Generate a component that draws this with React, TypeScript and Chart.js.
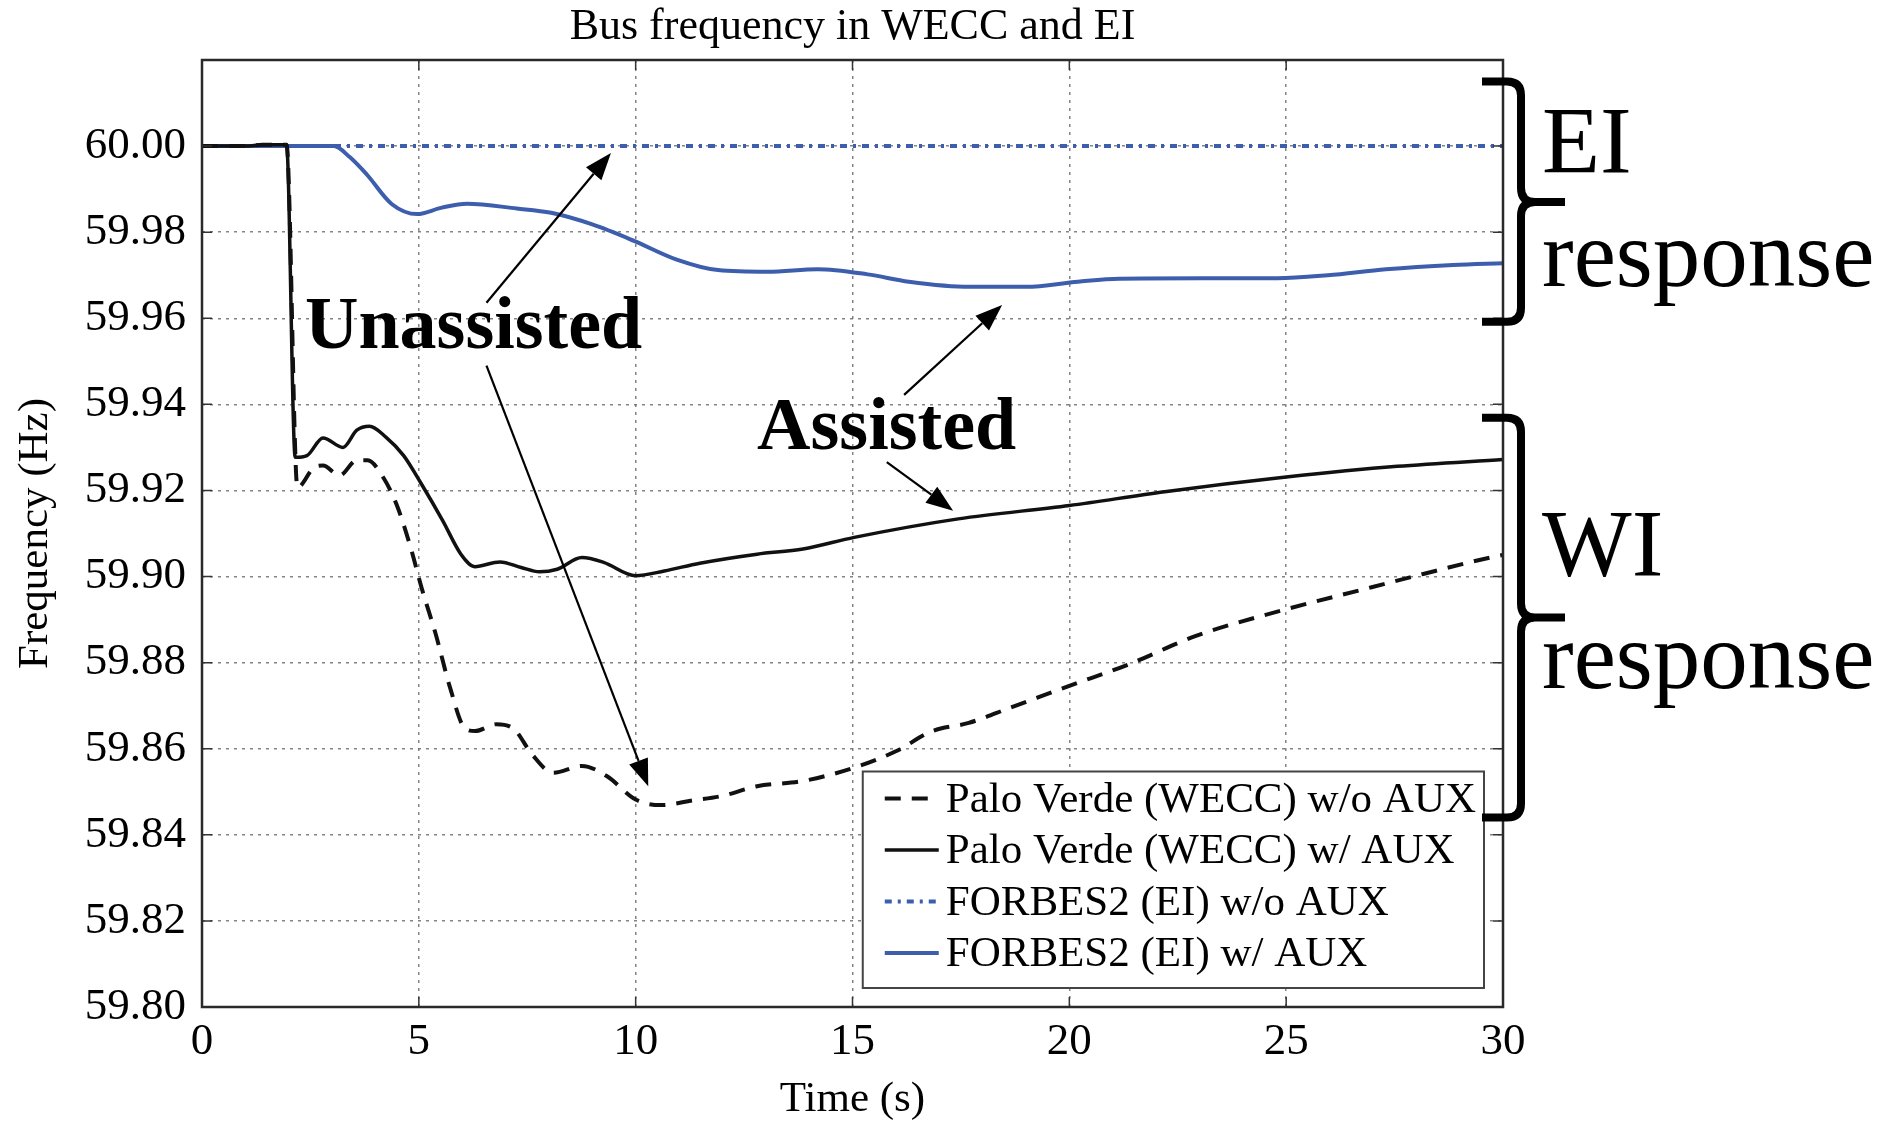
import React, { useEffect, useRef } from 'react';
import { Chart, registerables } from 'chart.js';

Chart.register(...registerables);

// ---------------- data ----------------
const chartTitle = 'Bus frequency in WECC and EI';
const xTitle = 'Time (s)';
const yTitle = 'Frequency (Hz)';

const seriesLabels = [
  'Palo Verde (WECC) w/o AUX',
  'Palo Verde (WECC) w/ AUX',
  'FORBES2 (EI) w/o AUX',
  'FORBES2 (EI) w/ AUX',
];

const xTicks = [0, 5, 10, 15, 20, 25, 30];
const yTicks = [59.8, 59.82, 59.84, 59.86, 59.88, 59.9, 59.92, 59.94, 59.96, 59.98, 60.0];

const tPaloNoAux = [0, 1.0, 1.4, 1.7, 1.95, 2.2, 2.59, 2.79, 3.17, 3.57, 3.82, 4.15, 4.48, 4.81, 5.06, 5.39, 5.72, 6.05, 6.3, 6.79, 7.2, 7.61, 8.1, 8.76, 9.34, 10.0, 10.58, 11.32, 11.98, 12.8, 13.86, 15.04, 16.0, 16.84, 17.68, 18.63, 20.0, 21.37, 22.92, 25.0, 26.97, 28.16, 29.7, 30];
const fPaloNoAux = [60.0, 60.0, 60.0003, 60.0003, 60.0003, 59.9207, 59.9254, 59.9258, 59.9235, 59.927, 59.927, 59.9235, 59.9169, 59.9068, 59.8975, 59.8866, 59.8742, 59.8649, 59.8641, 59.8657, 59.8645, 59.8587, 59.8544, 59.856, 59.8536, 59.8482, 59.8469, 59.848, 59.849, 59.8513, 59.8525, 59.8556, 59.8594, 59.8641, 59.866, 59.8695, 59.8746, 59.8796, 59.8862, 59.8924, 59.8975, 59.9006, 59.9044, 59.905];

const tPaloAux = [0, 1.0, 1.4, 1.7, 1.95, 2.15, 2.42, 2.79, 3.25, 3.57, 3.86, 4.24, 4.65, 5.06, 5.55, 5.97, 6.29, 6.87, 7.36, 7.78, 8.19, 8.76, 9.26, 10.0, 10.66, 11.48, 12.8, 13.86, 15.04, 17.44, 20.0, 22.2, 25.0, 27.56, 30];
const fPaloAux = [60.0, 60.0, 60.0003, 60.0003, 60.0003, 59.9277, 59.9281, 59.9322, 59.93, 59.934, 59.9349, 59.9324, 59.9281, 59.9215, 59.913, 59.9052, 59.9023, 59.9034, 59.9021, 59.9011, 59.9017, 59.9044, 59.9033, 59.9002, 59.9013, 59.9031, 59.9052, 59.9064, 59.9091, 59.9134, 59.9165, 59.9197, 59.9231, 59.9256, 59.9272];

const tForbesNoAux = [0, 5, 10, 15, 20, 25, 30];
const fForbesNoAux = [60.0, 60.0, 60.0, 60.0, 60.0, 60.0, 60.0];

const tForbesAux = [0, 3.04, 3.4, 3.8, 4.38, 4.96, 5.53, 6.11, 7.26, 8.05, 9.0, 9.96, 10.93, 11.9, 13.05, 14.2, 15.35, 16.3, 17.7, 19.0, 20.2, 21.15, 23.06, 24.8, 25.96, 27.3, 28.85, 30];
const fForbesAux = [60.0, 60.0, 59.9975, 59.9934, 59.9865, 59.9842, 59.9857, 59.9866, 59.9855, 59.9845, 59.9818, 59.978, 59.9737, 59.9712, 59.9708, 59.9714, 59.9702, 59.9685, 59.9673, 59.9673, 59.9685, 59.9692, 59.9693, 59.9693, 59.97, 59.9714, 59.9724, 59.9728];

// annotations (data units)
const noteTexts = [
  { text: 'Unassisted', t: 2.375, f: 59.9531 },
  { text: 'Assisted', t: 12.8, f: 59.9297 },
];
const noteArrows = [
  { t1: 6.56, f1: 59.9636, t2: 9.43, f2: 59.9984 },
  { t1: 6.56, f1: 59.949, t2: 10.29, f2: 59.8513 },
  { t1: 16.19, f1: 59.9422, t2: 18.45, f2: 59.9631 },
  { t1: 15.79, f1: 59.9266, t2: 17.32, f2: 59.9153 },
];
const braces = [
  { top: 60.015, mid: 59.987, bottom: 59.9592, line1: 'EI', f1: 59.9937, line2: 'response', f2: 59.9675 },
  { top: 59.9369, mid: 59.8905, bottom: 59.844, line1: 'WI', f1: 59.9002, line2: 'response', f2: 59.874 },
];

// ---------------- styles ----------------
const SERIF = "'Liberation Serif', 'Times New Roman', Times, serif";
const BLUE = '#3D5EAD';
const BLACK = '#111111';
const GRID = 'rgba(110,110,110,0.85)';

function drawArrow(ctx: CanvasRenderingContext2D, x1: number, y1: number, x2: number, y2: number) {
  const ang = Math.atan2(y2 - y1, x2 - x1);
  const hl = 27;
  const hw = 10;
  const bx = x2 - hl * Math.cos(ang);
  const by = y2 - hl * Math.sin(ang);
  ctx.beginPath();
  ctx.moveTo(x1, y1);
  ctx.lineTo(bx, by);
  ctx.stroke();
  ctx.beginPath();
  ctx.moveTo(x2, y2);
  ctx.lineTo(bx + hw * Math.sin(ang), by - hw * Math.cos(ang));
  ctx.lineTo(bx - hw * Math.sin(ang), by + hw * Math.cos(ang));
  ctx.closePath();
  ctx.fill();
}

const decorPlugin = {
  id: 'decor',
  afterDatasetsDraw(chart: any) {
    const ctx: CanvasRenderingContext2D = chart.ctx;
    const a = chart.chartArea;
    const xs = chart.scales.x;
    const ys = chart.scales.y;
    ctx.save();
    // inner tick marks
    ctx.strokeStyle = '#333';
    ctx.lineWidth = 1.5;
    ctx.setLineDash([]);
    xTicks.forEach((v) => {
      const px = xs.getPixelForValue(v);
      ctx.beginPath();
      ctx.moveTo(px, a.bottom);
      ctx.lineTo(px, a.bottom - 10);
      ctx.moveTo(px, a.top);
      ctx.lineTo(px, a.top + 10);
      ctx.stroke();
    });
    yTicks.forEach((v) => {
      const py = ys.getPixelForValue(v);
      ctx.beginPath();
      ctx.moveTo(a.left, py);
      ctx.lineTo(a.left + 10, py);
      ctx.moveTo(a.right, py);
      ctx.lineTo(a.right - 10, py);
      ctx.stroke();
    });
    // frame
    ctx.strokeStyle = '#2a2a2a';
    ctx.lineWidth = 2.5;
    ctx.strokeRect(a.left, a.top, a.right - a.left, a.bottom - a.top);

    // legend box
    ctx.font = `43px ${SERIF}`;
    const labels = chart.data.datasets.map((d: any) => d.label as string);
    const maxW = Math.max(...labels.map((l: string) => ctx.measureText(l).width));
    const padL = 22, sample = 54, gap = 7, padR = 8, rowH = 51.5, firstRow = 27, lastPad = 35;
    const w = padL + sample + gap + maxW + padR;
    const h = firstRow + rowH * (labels.length - 1) + lastPad;
    const bx = a.right - 19 - w;
    const by = a.bottom - 19 - h;
    ctx.fillStyle = '#fff';
    ctx.fillRect(bx, by, w, h);
    ctx.strokeStyle = '#444';
    ctx.lineWidth = 2;
    ctx.strokeRect(bx, by, w, h);
    chart.data.datasets.forEach((d: any, i: number) => {
      const cy = by + firstRow + i * rowH;
      ctx.save();
      ctx.strokeStyle = d.borderColor;
      ctx.lineWidth = d.borderWidth;
      ctx.setLineDash(d.borderDash || []);
      ctx.beginPath();
      ctx.moveTo(bx + padL, cy);
      ctx.lineTo(bx + padL + sample, cy);
      ctx.stroke();
      ctx.restore();
      ctx.fillStyle = '#000';
      ctx.textAlign = 'left';
      ctx.textBaseline = 'middle';
      ctx.fillText(d.label, bx + padL + sample + gap, cy + 2);
    });
    ctx.restore();
  },
  afterDraw(chart: any) {
    const ctx: CanvasRenderingContext2D = chart.ctx;
    const a = chart.chartArea;
    const xs = chart.scales.x;
    const ys = chart.scales.y;
    ctx.save();
    ctx.fillStyle = '#000';
    ctx.strokeStyle = '#000';
    // title centred over the plot area
    ctx.font = `44px ${SERIF}`;
    ctx.textAlign = 'center';
    ctx.textBaseline = 'alphabetic';
    ctx.fillText(chartTitle, (a.left + a.right) / 2, a.top - 21);
    // bold annotation texts
    ctx.font = `bold 74px ${SERIF}`;
    ctx.textAlign = 'left';
    noteTexts.forEach((n) => {
      ctx.fillText(n.text, xs.getPixelForValue(n.t), ys.getPixelForValue(n.f));
    });
    // arrows
    ctx.lineWidth = 2.2;
    noteArrows.forEach((r) => {
      drawArrow(ctx, xs.getPixelForValue(r.t1), ys.getPixelForValue(r.f1), xs.getPixelForValue(r.t2), ys.getPixelForValue(r.f2));
    });
    // braces
    const x0 = a.right - 21;
    const xv = a.right + 18;
    const xt = a.right + 62;
    const r = 14;
    ctx.lineWidth = 8;
    ctx.lineJoin = 'round';
    ctx.lineCap = 'butt';
    braces.forEach((b) => {
      const top = ys.getPixelForValue(b.top);
      const mid = ys.getPixelForValue(b.mid);
      const bot = ys.getPixelForValue(b.bottom);
      ctx.beginPath();
      ctx.moveTo(x0, top);
      ctx.lineTo(xv - r, top);
      ctx.quadraticCurveTo(xv, top, xv, top + r);
      ctx.lineTo(xv, mid - r);
      ctx.quadraticCurveTo(xv, mid, xv + r, mid);
      ctx.lineTo(xt, mid);
      ctx.moveTo(xv + r, mid);
      ctx.quadraticCurveTo(xv, mid, xv, mid + r);
      ctx.lineTo(xv, bot - r);
      ctx.quadraticCurveTo(xv, bot, xv - r, bot);
      ctx.lineTo(x0, bot);
      ctx.stroke();
      ctx.font = `95px ${SERIF}`;
      ctx.fillText(b.line1, a.right + 39, ys.getPixelForValue(b.f1));
      ctx.fillText(b.line2, a.right + 39, ys.getPixelForValue(b.f2));
    });
    ctx.restore();
  },
};

const toPts = (ts: number[], fs: number[]) => ts.map((t, i) => ({ x: t, y: fs[i] }));

export default function App() {
  const ref = useRef<HTMLCanvasElement>(null);
  useEffect(() => {
    const canvas = ref.current;
    if (!canvas) return;
    const common = { pointRadius: 0, fill: false, cubicInterpolationMode: 'monotone' as const };
    const chart = new Chart(canvas, {
      type: 'line',
      data: {
        datasets: [
          { label: seriesLabels[0], data: toPts(tPaloNoAux, fPaloNoAux), borderColor: BLACK, borderWidth: 4, borderDash: [16, 11], ...common },
          { label: seriesLabels[1], data: toPts(tPaloAux, fPaloAux), borderColor: BLACK, borderWidth: 3.5, ...common },
          { label: seriesLabels[2], data: toPts(tForbesNoAux, fForbesNoAux), borderColor: BLUE, borderWidth: 4, borderDash: [7, 6, 3, 6], ...common },
          { label: seriesLabels[3], data: toPts(tForbesAux, fForbesAux), borderColor: BLUE, borderWidth: 4, ...common },
        ],
      },
      options: {
        animation: false,
        responsive: true,
        maintainAspectRatio: false,
        devicePixelRatio: 1,
        layout: { padding: { left: 0, right: 382, top: 60, bottom: 0 } },
        plugins: {
          legend: { display: false },
          tooltip: { enabled: false },
          title: { display: false },
        },
        scales: {
          x: {
            type: 'linear',
            min: 0,
            max: 30,
            afterBuildTicks: (s: any) => {
              s.ticks = xTicks.map((v) => ({ value: v }));
            },
            afterFit: (s: any) => {
              s.height = 120;
            },
            ticks: {
              color: '#000',
              font: { family: SERIF, size: 45 },
              padding: 8,
              maxRotation: 0,
              autoSkip: false,
              callback: (v: any) => String(v),
            },
            grid: { color: GRID, lineWidth: 1.5, drawTicks: false },
            border: { display: false, dash: [3, 5] },
            title: {
              display: true,
              text: xTitle,
              color: '#000',
              font: { family: SERIF, size: 43 },
              padding: { top: 0, bottom: 1 },
            },
          },
          y: {
            type: 'linear',
            min: 59.8,
            max: 60.02,
            afterBuildTicks: (s: any) => {
              s.ticks = yTicks.map((v) => ({ value: v }));
            },
            afterFit: (s: any) => {
              s.width = 202;
            },
            ticks: {
              color: '#000',
              font: { family: SERIF, size: 45 },
              padding: 16,
              autoSkip: false,
              callback: (v: any) => Number(v).toFixed(2),
            },
            grid: { color: GRID, lineWidth: 1.5, drawTicks: false },
            border: { display: false, dash: [3, 5] },
            title: {
              display: true,
              text: yTitle,
              color: '#000',
              font: { family: SERIF, size: 43 },
              padding: { top: 10, bottom: 0 },
            },
          },
        },
      },
      plugins: [decorPlugin],
    } as any);
    return () => chart.destroy();
  }, []);
  return (
    <div style={{ position: 'fixed', left: 0, top: 0, width: 1885, height: 1127, background: '#fff' }}>
      <canvas ref={ref} />
    </div>
  );
}
